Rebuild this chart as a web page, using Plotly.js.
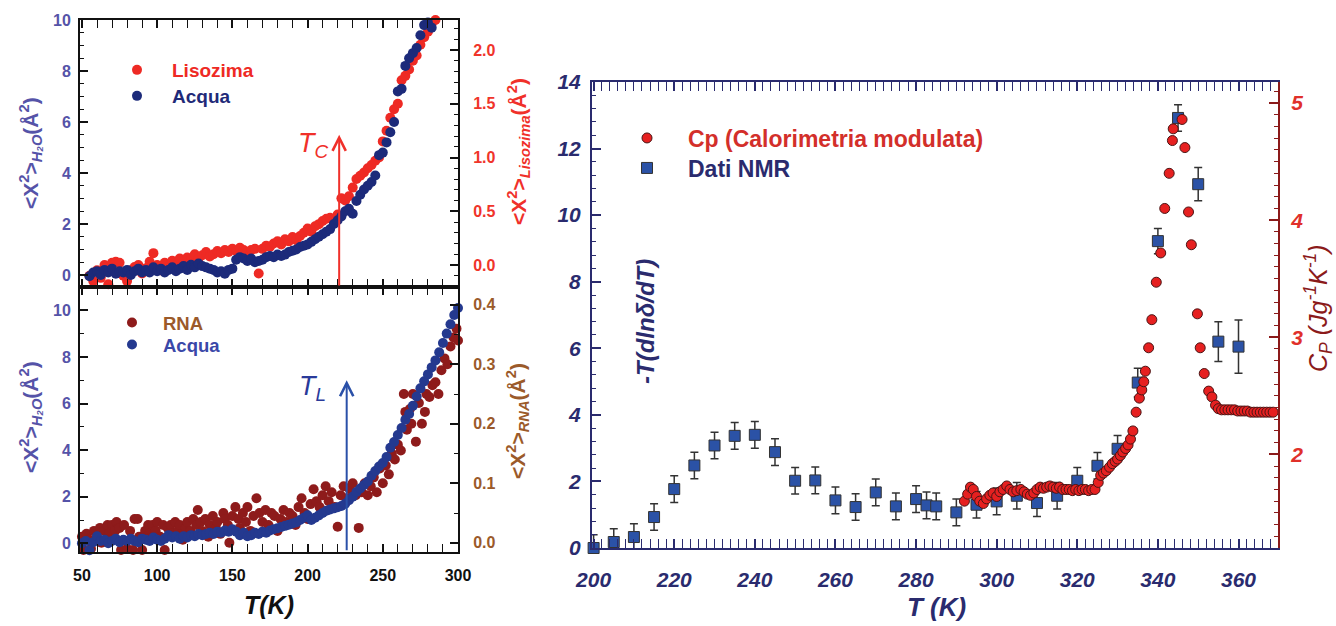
<!DOCTYPE html>
<html><head><meta charset="utf-8">
<script src="https://cdn.plot.ly/plotly-3.0.1.min.js"></script>
<style>html,body{margin:0;padding:0;background:#fff}#chart{width:1336px;height:626px}</style>
</head><body><div id="chart"></div>
<script>
// ---------------- DATA ----------------
const topTempAcqua = [55,57.5,60,62.5,65,67.5,70,72.5,75,77.5,80,82.5,85,87.5,90,92.5,95,97.5,100,102.5,105,107.5,110,112.5,115,117.5,120,122.5,125,127.5,130,132.5,135,137.5,140,142.5,145,147.5,150,152.5,155,157.5,160,162.5,165,167.5,170,172.5,175,177.5,180,182.5,185,187.5,190,192.5,195,197.5,200,202.5,205,207.5,210,212.5,215,217.5,220,222.5,225,227.5,230,232.5,235,237.5,240,242.5,245,247.5,250,252.5,255,257.5,260,262.5,265,267.5,270,272.5,275,277.5,280,282.5];
const topAcqua = [-0.05,0.1,0.15,0.0,0.2,0.1,0.25,0.05,0.15,0.1,0.2,0.0,0.15,0.25,0.1,0.2,0.1,0.3,0.15,0.25,0.1,0.2,0.3,0.15,0.25,0.35,0.2,0.4,0.3,0.45,0.35,0.3,0.25,0.2,0.1,0.15,0.05,0.2,0.25,0.6,0.7,0.65,0.55,0.65,0.5,0.55,0.6,0.7,0.75,0.7,0.8,0.75,0.8,0.9,0.95,1.0,1.1,1.15,1.2,1.3,1.4,1.5,1.6,1.7,1.8,2.0,2.15,2.3,2.5,2.6,2.4,2.9,3.15,3.35,3.5,3.65,3.9,4.7,4.8,5.2,5.6,6.0,7.2,7.3,8.2,8.5,8.7,8.9,9.4,9.8,9.9,9.7];
const topTempLiso = [55,57.5,60,62.5,65,67.5,70,72.5,75,77.5,80,82.5,85,87.5,90,92.5,95,97.5,100,102.5,105,107.5,110,112.5,115,117.5,120,122.5,125,127.5,130,132.5,135,137.5,140,142.5,145,147.5,150,152.5,155,157.5,160,162.5,165,167.5,170,172.5,175,177.5,180,182.5,185,187.5,190,192.5,195,197.5,200,202.5,205,207.5,210,212.5,215,217.5,220,222.5,225,227.5,230,232.5,235,237.5,240,242.5,245,247.5,250,252.5,255,257.5,260,262.5,265,267.5,270,272.5,275,277.5,280,282.5,285];
const topLiso = [-0.1,-0.15,-0.05,-0.12,0.0,-0.18,0.02,0.03,0.02,-0.1,-0.15,-0.05,-0.02,0.0,-0.08,-0.03,0.03,0.11,0.0,-0.05,0.02,-0.02,0.04,0.0,0.06,0.03,0.07,0.05,0.1,0.06,0.09,0.12,0.08,0.1,0.13,0.11,0.14,0.12,0.15,0.13,0.16,0.14,0.12,0.14,0.15,-0.08,0.15,0.18,0.17,0.2,0.22,0.19,0.24,0.22,0.26,0.23,0.27,0.3,0.34,0.31,0.36,0.38,0.41,0.43,0.44,0.42,0.47,0.62,0.6,0.64,0.72,0.8,0.83,0.86,0.9,0.93,0.97,1.0,1.15,1.25,1.37,1.45,1.5,1.72,1.76,1.82,1.9,1.95,2.05,2.12,2.17,2.25,2.28];

const botTempAcqua = [50,52.5,55,57.5,60,62.5,65,67.5,70,72.5,75,77.5,80,82.5,85,87.5,90,92.5,95,97.5,100,102.5,105,107.5,110,112.5,115,117.5,120,122.5,125,127.5,130,132.5,135,137.5,140,142.5,145,147.5,150,152.5,155,157.5,160,162.5,165,167.5,170,172.5,175,177.5,180,182.5,185,187.5,190,192.5,195,197.5,200,202.5,205,207.5,210,212.5,215,217.5,220,222.5,225,227.5,230,232.5,235,237.5,240,242.5,245,247.5,250,252.5,255,257.5,260,262.5,265,267.5,270,272.5,275,277.5,280,282.5,285,287.5,290,292.5,295,297.5,300];
const botAcqua = [0.0,0.1,-0.3,0.05,0.3,0.1,0.15,0.0,0.1,0.2,0.05,0.15,0.1,0.2,0.1,0.05,0.2,0.15,0.1,0.25,0.15,0.1,0.2,0.35,0.25,0.3,0.2,0.3,0.25,0.35,0.3,0.4,0.35,0.4,0.45,0.4,0.5,0.45,0.55,0.5,0.6,0.5,0.35,0.45,0.3,0.35,0.45,0.4,0.5,0.45,0.55,0.6,0.65,0.7,0.75,0.8,0.85,0.9,1.0,1.1,1.2,1.0,1.1,1.2,1.3,1.4,1.45,1.5,1.55,1.6,1.7,1.85,2.0,2.2,2.35,2.5,2.65,2.9,3.1,3.3,3.45,3.7,4.1,4.35,4.65,4.95,5.3,5.55,5.9,6.3,6.65,6.95,7.25,7.55,7.85,8.2,8.6,9.0,9.4,9.8,10.1];
const botTempRNA = [50,51,53,55,56,58,60,62,63,65,67,68,70,72,73,75,76,78,80,82,84,85,87,88,90,92,94,95,97,99,100,102,104,105,107,109,110,112,114,115,117,119,120,122,124,126,127,129,130,132,134,135,137,139,140,142,144,145,147,148,150,152,154,155,157,159,160,162,164,166,168,170,172,174,176,178,180,182,184,186,188,190,192,194,196,198,200,202,204,206,208,210,212,214,216,218,220,222,224,226,228,230,232,234,236,238,240,242,244,246,248,250,252,254,256,258,260,262,264,265,266,268,269,270,272,274,276,278,279,281,283,285,287,289,291,293,295,297,299,300];
const botRNA = [0.01,-0.012,0.015,0.005,-0.01,0.02,0.01,0.025,0.0,0.02,0.03,0.015,0.03,0.02,0.035,0.025,-0.012,0.03,-0.01,0.02,-0.012,0.04,0.04,0.01,-0.012,0.02,0.03,0.015,0.03,0.02,0.035,0.01,0.03,-0.012,0.025,0.03,0.015,0.035,0.02,0.03,0.005,0.025,0.035,0.02,0.04,0.03,0.055,0.035,0.02,0.04,0.01,0.03,0.045,0.025,0.035,0.015,0.05,0.04,0.03,0.0,0.045,0.06,0.04,0.025,0.05,0.035,0.06,0.02,0.045,0.075,0.05,0.035,0.055,0.03,0.05,0.045,0.02,0.04,0.055,0.035,0.05,0.045,0.03,0.06,0.075,0.05,0.04,0.065,0.09,0.07,0.06,0.08,0.095,0.07,0.085,0.06,0.027,0.08,0.095,0.075,0.09,0.1,0.08,0.025,0.085,0.1,0.08,0.095,0.11,0.085,0.125,0.1,0.13,0.115,0.15,0.14,0.165,0.155,0.25,0.22,0.19,0.225,0.2,0.25,0.17,0.235,0.2,0.22,0.25,0.245,0.265,0.27,0.25,0.29,0.31,0.3,0.33,0.345,0.36,0.34];

const nmrTemp = [200,205,210,215,220,225,230,235,240,245,250,255,260,265,270,275,280,282.6,285,290,295,300,305,310,315,320,325,330,335,340,345,350,355,360];
const nmrValue = [0.0,0.18,0.33,0.93,1.77,2.48,3.08,3.37,3.4,2.88,2.02,2.03,1.43,1.23,1.67,1.25,1.47,1.28,1.25,1.07,1.3,1.4,1.57,1.35,1.57,2.02,2.47,2.98,4.97,9.22,12.92,10.93,6.2,6.05];
const nmrError = [0.4,0.4,0.4,0.4,0.4,0.4,0.4,0.4,0.4,0.4,0.4,0.4,0.4,0.4,0.4,0.4,0.4,0.4,0.4,0.4,0.4,0.4,0.4,0.4,0.4,0.4,0.4,0.4,0.43,0.38,0.4,0.5,0.6,0.8];
const cpTemp = [292.0,292.8,293.5,294.2,295.0,295.8,296.7,297.5,298.3,299.1,300.0,300.8,301.6,302.5,303.3,304.1,305.0,306.0,306.8,307.6,308.4,309.2,310.0,310.8,311.6,312.4,313.2,314.0,314.8,315.6,316.4,317.2,318.0,318.8,319.6,320.4,321.2,322.0,322.8,323.6,324.4,325.2,325.8,326.5,327.2,328.0,328.7,329.4,330.0,330.7,331.3,332.0,332.6,333.2,333.8,334.6,335.4,336.0,336.5,336.9,337.7,338.5,339.6,340.7,341.7,342.8,343.6,343.8,346.0,346.7,347.6,348.3,349.8,350.5,351.5,352.6,353.4,354.3,355.0,355.8,356.6,357.4,358.2,359.0,359.8,360.6,361.4,362.2,363.0,363.8,364.6,365.4,366.2,367.0,367.8,368.6];
const cpValue = [1.60,1.66,1.72,1.70,1.64,1.60,1.58,1.62,1.65,1.67,1.64,1.68,1.70,1.73,1.70,1.68,1.69,1.70,1.68,1.66,1.65,1.67,1.70,1.72,1.71,1.72,1.73,1.72,1.71,1.72,1.70,1.70,1.70,1.69,1.70,1.69,1.70,1.70,1.69,1.70,1.70,1.76,1.82,1.84,1.86,1.89,1.92,1.94,1.96,1.99,2.02,2.05,2.08,2.13,2.20,2.36,2.48,2.55,2.62,2.71,2.91,3.15,3.47,3.72,4.10,4.40,4.68,4.78,4.86,4.62,4.07,3.79,3.20,2.91,2.69,2.54,2.49,2.42,2.39,2.38,2.38,2.38,2.38,2.38,2.37,2.37,2.37,2.37,2.36,2.36,2.36,2.36,2.36,2.36,2.36,2.36];

const tempTC = 221;
const tempTL = 226;

// ---------------- LAYOUT HELPERS ----------------
const FONT = 'Liberation Sans, Arial, Helvetica, sans-serif';
const W = 1336, H = 626;
const px = v => v / W;
const py = v => 1 - v / H;
const leftX = [px(80), px(458)];
const topY = [py(287), py(20)];
const botY = [py(551.7), py(287)];
const rightX = [px(592), px(1278)];
const rightY = [py(548), py(82)];

const cBlack = '#111111';
const cPeri = '#5553a8';
const cRed = '#ee2a24';
const cBrown = '#9b5a2a';
const cNavy = '#2a2b6e';
const cDarkRed = '#8b1a1a';

function baseAxis(extra) {
  return Object.assign({showgrid:false, zeroline:false, showline:true, linewidth:2,
    ticks:'inside', tickwidth:1.5, layer:'above traces', automargin:false}, extra);
}

const traces = [
  {x: topTempLiso, y: topLiso, xaxis:'x', yaxis:'y', mode:'markers', name:'Lisozima', legend:'legend',
   marker:{size:10, color:cRed}, cliponaxis:false},
  {x: topTempAcqua, y: topAcqua, xaxis:'x', yaxis:'y2', mode:'markers', name:'Acqua', legend:'legend2',
   marker:{size:10, color:'#1c2a7a'}, cliponaxis:false},
  {x: botTempRNA, y: botRNA, xaxis:'x2', yaxis:'y3', mode:'markers', name:'RNA', legend:'legend3',
   marker:{size:10, color:'#8e1b1b'}, cliponaxis:false},
  {x: botTempAcqua, y: botAcqua, xaxis:'x2', yaxis:'y4', mode:'markers', name:'Acqua', legend:'legend4',
   marker:{size:10, color:'#24398f'}, cliponaxis:false},
  {x: nmrTemp, y: nmrValue, xaxis:'x3', yaxis:'y5', mode:'markers', name:'Dati NMR', legend:'legend6',
   marker:{size:11, symbol:'square', color:'#2b52a6', line:{color:'#333', width:1}},
   error_y:{type:'data', array:nmrError, visible:true, color:'#333', thickness:1.5, width:4}, cliponaxis:false},
  {x: cpTemp, y: cpValue, xaxis:'x3', yaxis:'y6', mode:'markers', name:'Cp (Calorimetria modulata)', legend:'legend5',
   marker:{size:10, color:'#e62020', line:{color:'#4a1515', width:1}}, cliponaxis:false}
];

function legendAt(xpx, ypx, color, size, iw) {
  return {x: px(xpx), y: py(ypx), xanchor:'left', yanchor:'middle', bgcolor:'rgba(0,0,0,0)',
    borderwidth:0, itemwidth:iw, font:{family:FONT, size:size, color:color, weight:'bold'}};
}

const layout = {
  width: W, height: H, margin:{l:0, r:0, t:0, b:0}, paper_bgcolor:'#fff', plot_bgcolor:'rgba(0,0,0,0)',
  showlegend: true,
  font:{family:FONT},
  xaxis: baseAxis({domain:leftX, anchor:'y', range:[48.7,300], dtick:50, tick0:0, linecolor:cBlack, tickcolor:cBlack,
    mirror:'allticks', ticklen:8, showticklabels:false,
    minor:{dtick:10, ticks:'inside', ticklen:4, tickcolor:cBlack, tickwidth:1.2}}),
  yaxis: baseAxis({domain:topY, anchor:'x', side:'right', range:[-0.205,2.28], dtick:0.5, tick0:0, tickformat:'.1f',
    linecolor:cBlack, tickcolor:cBlack, ticklen:8, ticklabelstandoff:10,
    tickfont:{family:FONT, size:16, color:'#f0342a', weight:'bold'},
    minor:{dtick:0.1, ticks:'inside', ticklen:4, tickcolor:cBlack, tickwidth:1.2}}),
  yaxis2: baseAxis({overlaying:'y', anchor:'x', side:'left', range:[-0.47,10], dtick:2, tick0:0,
    linecolor:cBlack, tickcolor:cBlack, ticklen:8, ticklabelstandoff:4,
    tickfont:{family:FONT, size:16, color:cPeri, weight:'bold'},
    minor:{dtick:0.5, ticks:'inside', ticklen:4, tickcolor:cBlack, tickwidth:1.2}}),
  xaxis2: baseAxis({domain:leftX, anchor:'y3', range:[48.7,300], dtick:50, tick0:0, linecolor:cBlack, tickcolor:cBlack,
    mirror:'allticks', ticklen:8, ticklabelstandoff:8,
    tickfont:{family:FONT, size:16, color:cBlack, weight:'bold'},
    minor:{dtick:10, ticks:'inside', ticklen:4, tickcolor:cBlack, tickwidth:1.2}}),
  yaxis3: baseAxis({domain:botY, anchor:'x2', side:'right', range:[-0.015,0.43], dtick:0.1, tick0:0, tickformat:'.1f',
    linecolor:cBlack, tickcolor:cBlack, ticklen:8, ticklabelstandoff:10,
    tickfont:{family:FONT, size:16, color:cBrown, weight:'bold'},
    minor:{dtick:0.05, ticks:'inside', ticklen:4, tickcolor:cBlack, tickwidth:1.2}}),
  yaxis4: baseAxis({overlaying:'y3', anchor:'x2', side:'left', range:[-0.36,11], dtick:2, tick0:0,
    linecolor:cBlack, tickcolor:cBlack, ticklen:8, ticklabelstandoff:4,
    tickfont:{family:FONT, size:16, color:cPeri, weight:'bold'},
    minor:{dtick:1, ticks:'inside', ticklen:4, tickcolor:cBlack, tickwidth:1.2}}),
  xaxis3: baseAxis({domain:rightX, anchor:'y5', range:[199.6,369.8], dtick:20, tick0:0, linecolor:cNavy, tickcolor:cNavy,
    mirror:'allticks', ticklen:9, ticklabelstandoff:12,
    tickfont:{family:FONT, size:21, color:cNavy, weight:'bold', style:'italic'},
    minor:{dtick:2, ticks:'inside', ticklen:4, tickcolor:cNavy, tickwidth:1.2}}),
  yaxis5: baseAxis({domain:rightY, anchor:'x3', side:'left', range:[0,14], dtick:2, tick0:0,
    linecolor:cNavy, tickcolor:cNavy, ticklen:9, ticklabelstandoff:5,
    tickfont:{family:FONT, size:21, color:cNavy, weight:'bold', style:'italic'},
    minor:{dtick:0.4, ticks:'inside', ticklen:4, tickcolor:cNavy, tickwidth:1.2}}),
  yaxis6: baseAxis({overlaying:'y5', anchor:'x3', side:'right', range:[1.2,5.18], dtick:1, tick0:0,
    linecolor:cDarkRed, tickcolor:cDarkRed, ticklen:9, ticklabelstandoff:7,
    tickfont:{family:FONT, size:21, color:'#e0302a', weight:'bold', style:'italic'},
    minor:{dtick:0.1, ticks:'inside', ticklen:4, tickcolor:cDarkRed, tickwidth:1.2}}),
  legend:  legendAt(102, 70, cRed, 19, 60),
  legend2: legendAt(102, 96, '#1f2a78', 19, 60),
  legend3: legendAt(101, 323, cBrown, 18.5, 52),
  legend4: legendAt(101, 345, '#3a48a8', 18.5, 52),
  legend5: legendAt(606, 138, '#d32f2a', 23, 72),
  legend6: legendAt(606, 168, cNavy, 23, 72),
  annotations: [
    {xref:'paper', yref:'paper', x:px(30), y:py(153), textangle:-90, showarrow:false, xanchor:'center', yanchor:'middle',
     text:'<b>&lt;X<sup>2</sup>&gt;<sub><i>H₂O</i></sub>(Å<sup>2</sup>)</b>', font:{family:FONT, size:21, color:cPeri}},
    {xref:'paper', yref:'paper', x:px(30), y:py(417), textangle:-90, showarrow:false, xanchor:'center', yanchor:'middle',
     text:'<b>&lt;X<sup>2</sup>&gt;<sub><i>H₂O</i></sub>(Å<sup>2</sup>)</b>', font:{family:FONT, size:21, color:cPeri}},
    {xref:'paper', yref:'paper', x:px(518), y:py(152), textangle:-90, showarrow:false, xanchor:'center', yanchor:'middle',
     text:'<b>&lt;X<sup>2</sup>&gt;<sub><i>Lisozima</i></sub>(Å<sup>2</sup>)</b>', font:{family:FONT, size:21, color:'#f0302a'}},
    {xref:'paper', yref:'paper', x:px(517), y:py(421), textangle:-90, showarrow:false, xanchor:'center', yanchor:'middle',
     text:'<b>&lt;X<sup>2</sup>&gt;<sub><i>RNA</i></sub>(Å<sup>2</sup>)</b>', font:{family:FONT, size:21, color:cBrown}},
    {xref:'paper', yref:'paper', x:px(269), y:py(605), showarrow:false, xanchor:'center', yanchor:'middle',
     text:'<b><i>T(K)</i></b>', font:{family:FONT, size:25, color:cBlack}},
    {xref:'paper', yref:'paper', x:px(936), y:py(607), showarrow:false, xanchor:'center', yanchor:'middle',
     text:'<b><i>T (K)</i></b>', font:{family:FONT, size:26, color:cNavy}},
    {xref:'paper', yref:'paper', x:px(645), y:py(322), textangle:-90, showarrow:false, xanchor:'center', yanchor:'middle',
     text:'<b><i>-T(dlnδ/dT)</i></b>', font:{family:FONT, size:24, color:cNavy}},
    {xref:'paper', yref:'paper', x:px(1318), y:py(308), textangle:-90, showarrow:false, xanchor:'center', yanchor:'middle',
     text:'<i>C<sub>P</sub> (Jg<sup>-1</sup>K<sup>-1</sup>)</i>', font:{family:FONT, size:25, color:cDarkRed}},
    {xref:'paper', yref:'paper', x:px(313), y:py(145), showarrow:false, xanchor:'center', yanchor:'middle',
     text:'<i>T<sub>C</sub></i>', font:{family:FONT, size:27, color:'#f0302a'}},
    {xref:'paper', yref:'paper', x:px(312), y:py(388), showarrow:false, xanchor:'center', yanchor:'middle',
     text:'<i>T<sub>L</sub></i>', font:{family:FONT, size:27, color:'#2a3a9a'}},
    {xref:'x', yref:'y2', x:tempTC, y:5.5, axref:'x', ayref:'y2', ax:tempTC, ay:-0.47, text:'', showarrow:true,
     arrowhead:5, arrowsize:1.3, arrowwidth:2, arrowcolor:'#f0302a', standoff:0, startstandoff:0},
    {xref:'x2', yref:'y4', x:tempTL, y:7.0, axref:'x2', ayref:'y4', ax:tempTL, ay:-0.36, text:'', showarrow:true,
     arrowhead:5, arrowsize:1.3, arrowwidth:2, arrowcolor:'#2a50a8', standoff:0, startstandoff:0}
  ]
};

Plotly.newPlot('chart', traces, layout, {displayModeBar:false});
</script>
</body></html>
